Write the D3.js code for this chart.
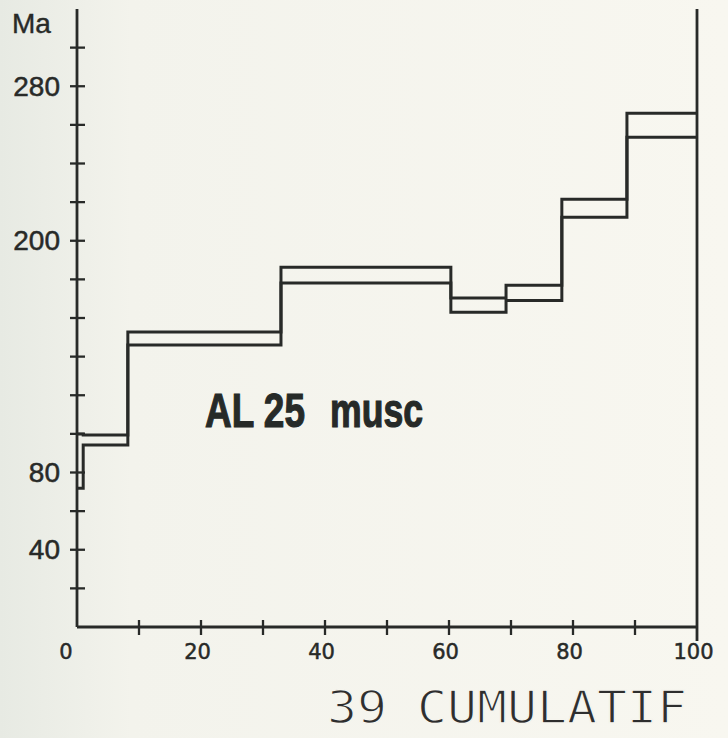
<!DOCTYPE html>
<html>
<head>
<meta charset="utf-8">
<script src="https://cdn.jsdelivr.net/npm/d3@7"></script>
<style>
  html, body { margin: 0; padding: 0; background: #f6f5ee; }
  svg { display: block; }
</style>
</head>
<body>
<svg id="chart" width="728" height="738"></svg>
<script>
// Step boundaries along the cumulative 39Ar axis (%)
const cumulBounds = [0, 1.0, 8.2, 32.9, 60.3, 69.2, 78.2, 88.7, 100];
// Upper and lower age limit of each step (Ma)
const ageHigh = [99.9, 99.4, 152.7, 186.3, 170.3, 177.0, 221.5, 266.0];
const ageLow  = [71.9, 94.2, 146.0, 178.1, 163.0, 169.0, 212.2, 253.6];
// Axis ticks and labels
const yTickValues  = [20, 40, 60, 80, 100, 120, 140, 160, 180, 200, 220, 240, 260, 280, 300];
const yLabelValues = [40, 80, 200, 280];
const xTickValues  = [10, 20, 30, 40, 50, 60, 70, 80, 90];
const xLabelValues = [0, 20, 40, 60, 80, 100];

const svg = d3.select("#chart");
const ink = "#282a28";
const paper = "#f6f5ee";

// Paper tone, slightly greyer towards the left edge
const defs = svg.append("defs");
const grad = defs.append("linearGradient").attr("id", "paper").attr("x1", 0).attr("x2", 1);
grad.append("stop").attr("offset", 0).attr("stop-color", "#e7eae3");
grad.append("stop").attr("offset", 0.18).attr("stop-color", "#f3f3ec");
grad.append("stop").attr("offset", 1).attr("stop-color", "#f8f7f0");
svg.append("rect").attr("width", 728).attr("height", 738).attr("fill", "url(#paper)");

const x = d3.scaleLinear().domain([0, 100]).range([77, 697]);
const y = d3.scaleLinear().domain([0, 320]).range([627, 9]);

// Frame: left age axis, bottom axis, right closing line
const frame = svg.append("g").attr("stroke", ink).attr("stroke-width", 2.8).attr("fill", "none");
frame.append("line").attr("x1", x(0)).attr("x2", x(0)).attr("y1", y(320)).attr("y2", y(0));
frame.append("line").attr("x1", x(0)).attr("x2", x(100)).attr("y1", y(0)).attr("y2", y(0));
frame.append("line").attr("x1", x(100)).attr("x2", x(100)).attr("y1", y(320)).attr("y2", y(0) + 14);

// Crossing tick marks
const ticks = svg.append("g").attr("stroke", ink).attr("stroke-width", 2.3);
ticks.selectAll(".yt").data(yTickValues).join("line")
  .attr("x1", x(0) - 7).attr("x2", x(0) + 8)
  .attr("y1", d => y(d)).attr("y2", d => y(d));
ticks.selectAll(".xt").data(xTickValues).join("line")
  .attr("x1", d => x(d)).attr("x2", d => x(d))
  .attr("y1", y(0) - 7).attr("y2", y(0) + 8);

// Age labels
const yAxis = svg.append("g")
  .attr("transform", `translate(${x(0)},0)`)
  .call(d3.axisLeft(y).tickValues(yLabelValues).tickSize(0).tickPadding(17).tickFormat(d3.format("d")));
yAxis.select(".domain").remove();
yAxis.selectAll("text")
  .attr("fill", ink)
  .attr("stroke", ink).attr("stroke-width", 0.5)
  .style("font-family", "'Liberation Sans', Arial, sans-serif")
  .style("font-size", "28px");

// Cumulative % labels
const xAxis = svg.append("g")
  .attr("transform", `translate(-4,${y(0)})`)
  .call(d3.axisBottom(x).tickValues(xLabelValues).tickSize(0).tickPadding(17).tickFormat(d3.format("d")));
xAxis.select(".domain").remove();
xAxis.selectAll("text")
  .attr("fill", ink)
  .attr("stroke", ink).attr("stroke-width", 0.5)
  .style("font-family", "'DejaVu Sans', sans-serif")
  .style("font-size", "21px");
xAxis.selectAll(".tick").filter(d => d === 0).attr("transform", `translate(${x(0) - 7},0)`);

// Unit label
svg.append("text")
  .attr("x", 12).attr("y", 33)
  .attr("fill", ink)
  .attr("stroke", ink).attr("stroke-width", 0.4)
  .style("font-family", "'Liberation Sans', Arial, sans-serif")
  .style("font-size", "28px")
  .text("Ma");

// Age spectrum: upper and lower limits as step lines
const points = ages => ages.map((a, i) => [cumulBounds[i], a]).concat([[100, ages[ages.length - 1]]]);
const stepLine = d3.line().x(d => x(d[0])).y(d => y(d[1])).curve(d3.curveStepAfter);
svg.append("g").attr("fill", "none").attr("stroke", ink).attr("stroke-width", 3)
  .selectAll("path").data([ageHigh, ageLow]).join("path")
  .attr("d", d => stepLine(points(d)));

// Sample name
const title = svg.append("g").attr("fill", "#262a28")
  .attr("stroke", "#262a28").attr("stroke-width", 1.2)
  .style("font-family", "'Liberation Sans Narrow', 'Liberation Sans', Arial, sans-serif")
  .style("font-weight", "bold")
  .style("font-size", "49px");
title.append("text").attr("x", 205).attr("y", 427)
  .attr("textLength", 100).attr("lengthAdjust", "spacingAndGlyphs").text("AL 25");
title.append("text").attr("x", 330).attr("y", 427)
  .attr("textLength", 93).attr("lengthAdjust", "spacingAndGlyphs").text("musc");

// Axis title
svg.append("text")
  .attr("x", 327).attr("y", 723)
  .attr("textLength", 360).attr("lengthAdjust", "spacingAndGlyphs")
  .attr("fill", "#2e2e2e")
  .attr("stroke", paper).attr("stroke-width", 1.3)
  .style("font-family", "'DejaVu Sans Mono', monospace")
  .style("font-size", "45px")
  .text("39 CUMULATIF");
</script>
</body>
</html>
